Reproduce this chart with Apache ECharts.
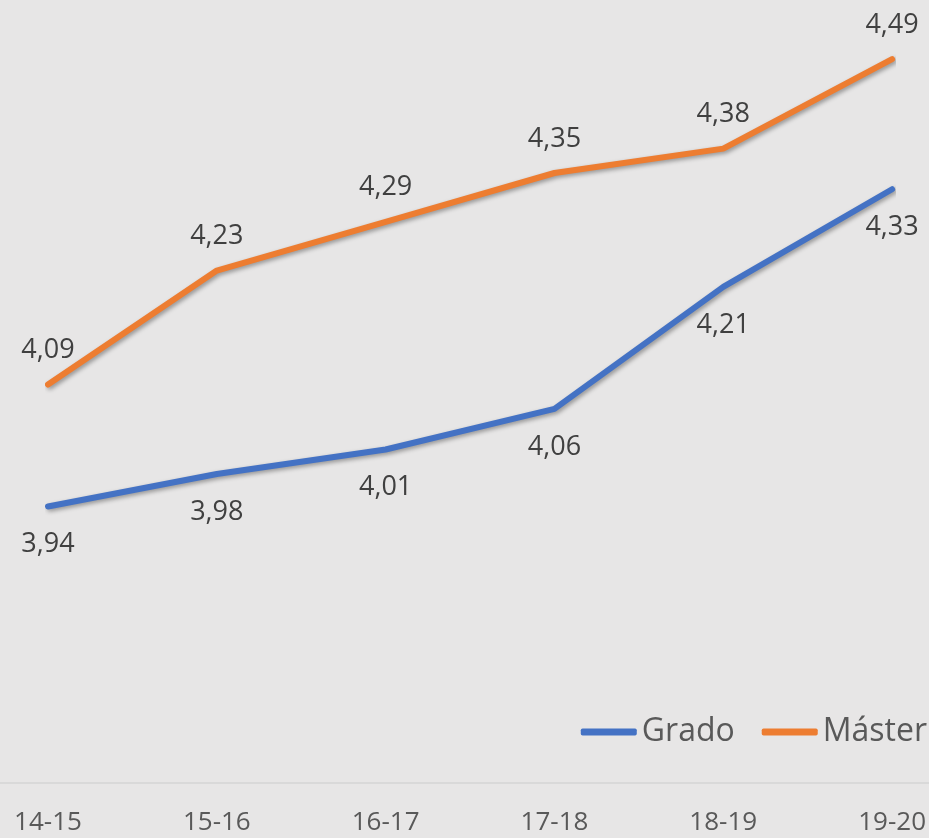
<!DOCTYPE html>
<html><head><meta charset="utf-8">
<script src="https://cdn.jsdelivr.net/npm/echarts@6/dist/echarts.min.js"></script>
<style>html,body{margin:0;padding:0;background:#e7e6e6;}#c{width:929px;height:838px;}</style>
</head><body><div id="c"></div>
<script>
const categories = ['14-15','15-16','16-17','17-18','18-19','19-20'];
const grado = [3.94, 3.98, 4.01, 4.06, 4.21, 4.33];
const master = [4.09, 4.23, 4.29, 4.35, 4.38, 4.49];
const seriesNames = ['Grado','Máster'];

const FONT = '"Open Sans", sans-serif';
const fmt = p => p.value.toFixed(2).replace('.', ',');
const shadow = {shadowColor:'rgba(0,0,0,0.35)', shadowBlur:4, shadowOffsetX:2, shadowOffsetY:2};
const chart = echarts.init(document.getElementById('c'));
chart.setOption({
  backgroundColor:'#e7e6e6',
  animation:false,
  grid:[
    {left:48, right:36, top:51, bottom:55},
    {left:0, right:0, top:51, bottom:55}
  ],
  legend:{
    orient:'horizontal', right:0, top:711, itemWidth:56, itemHeight:7, itemGap:27, icon:'roundRect',
    padding:[5,2,5,5],
    textStyle:{fontFamily:FONT, fontSize:32, color:'#595959'},
    data:seriesNames
  },
  xAxis:[
    {type:'category', data:categories, boundaryGap:false, gridIndex:0,
     axisLine:{show:false},
     axisTick:{show:false},
     axisLabel:{fontFamily:FONT, fontSize:26, color:'#595959', margin:27}},
    {type:'category', data:categories, boundaryGap:false, gridIndex:1,
     axisLine:{lineStyle:{color:'#d9d9d9', width:2}},
     axisTick:{show:false}, axisLabel:{show:false}}
  ],
  yAxis:[
    {type:'value', min:3.6, max:4.5, show:false, splitLine:{show:false}, gridIndex:0},
    {type:'value', min:3.6, max:4.5, show:false, splitLine:{show:false}, gridIndex:1}
  ],
  series:[
    {name:seriesNames[0], type:'line', data:grado, symbol:'circle', symbolSize:1, showSymbol:true,
     itemStyle:{color:'#4472c4'},
     lineStyle:Object.assign({width:6, color:'#4472c4', cap:'round'}, shadow),
     label:{show:true, position:'bottom', distance:24, formatter:fmt, fontFamily:FONT, fontSize:27, color:'#404040'}},
    {name:seriesNames[1], type:'line', data:master, symbol:'circle', symbolSize:1, showSymbol:true,
     itemStyle:{color:'#ed7d31'},
     lineStyle:Object.assign({width:6, color:'#ed7d31', cap:'round'}, shadow),
     label:{show:true, position:'top', distance:20, formatter:fmt, fontFamily:FONT, fontSize:27, color:'#404040'}}
  ]
});
</script></body></html>
